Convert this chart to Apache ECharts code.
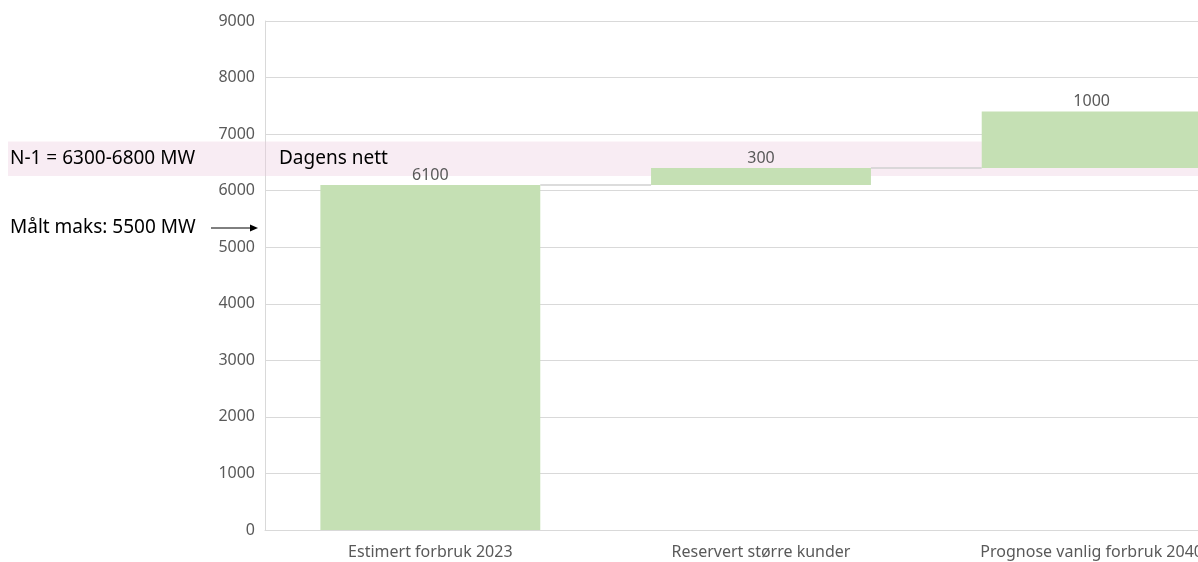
<!DOCTYPE html>
<html>
<head>
<meta charset="utf-8">
<script src="https://cdn.jsdelivr.net/npm/echarts@6/dist/echarts.min.js"></script>
<style>
  html, body { margin: 0; padding: 0; background: #fff; overflow: hidden; }
  /* wider than the window: the last category runs off the right edge like in the source */
  #chart { width: 1260px; height: 562px; }
</style>
</head>
<body>
<div id="chart"></div>
<script>
const categories = ['Estimert forbruk 2023', 'Reservert større kunder', 'Prognose vanlig forbruk 2040'];
const baseValues = [0, 6100, 6400];
const deltaValues = [6100, 300, 1000];
const connectorLevels = [[0, 6100], [1, 6400]];
const bandRange = [6260, 6870];
const yTicks = { min: 0, max: 9000, interval: 1000 };

const FONT = '"Noto Sans", sans-serif';
const chart = echarts.init(document.getElementById('chart'));

const option = {
    animation: false,
    textStyle: { fontFamily: FONT },
    grid: { left: 265, right: 3, top: 21, bottom: 32 },
    xAxis: {
        type: 'category',
        data: categories,
        axisLine: { lineStyle: { color: '#d9d9d9' } },
        axisTick: { show: false },
        axisLabel: { color: '#595959', fontSize: 16, margin: 14, fontFamily: FONT }
    },
    yAxis: {
        type: 'value',
        min: yTicks.min,
        max: yTicks.max,
        interval: yTicks.interval,
        axisLine: { show: true, lineStyle: { color: '#d9d9d9' } },
        splitLine: { lineStyle: { color: '#d9d9d9' } },
        axisLabel: {
            color: '#595959', fontSize: 16, margin: 10, fontFamily: FONT,
            formatter: v => String(v)
        }
    },
    series: [
        {
            name: 'base',
            type: 'bar',
            stack: 'w',
            barWidth: '66.5%',
            itemStyle: { color: 'transparent' },
            data: baseValues,
            z: 3
        },
        {
            name: 'delta',
            type: 'bar',
            stack: 'w',
            itemStyle: { color: '#c5e0b4' },
            label: {
                show: true,
                position: 'top',
                distance: 2,
                color: '#595959',
                fontSize: 16,
                fontFamily: FONT
            },
            data: deltaValues,
            z: 3
        },
        {
            // connector lines between the bars
            type: 'custom',
            z: 2,
            silent: true,
            data: connectorLevels,
            renderItem: (params, api) => {
                const idx = api.value(0);
                const level = api.value(1);
                const w = api.size([1, 0])[0] * 0.665;
                const p1 = api.coord([idx, level]);
                const p2 = api.coord([idx + 1, level]);
                return {
                    type: 'line',
                    shape: { x1: p1[0] + w / 2, y1: p1[1], x2: p2[0] - w / 2, y2: p2[1] },
                    style: { stroke: '#d0d0d0', lineWidth: 1.5 }
                };
            }
        }
    ]
};
chart.setOption(option);

// band and annotations, placed by the axis scale
const yTop = chart.convertToPixel({ yAxisIndex: 0 }, bandRange[1]);
const yBot = chart.convertToPixel({ yAxisIndex: 0 }, bandRange[0]);
const yMid = (yTop + yBot) / 2;
const arrowY = 228;

chart.setOption({
    graphic: [
        {
            type: 'rect',
            z: 1,
            silent: true,
            shape: { x: 8, y: yTop, width: 1250, height: yBot - yTop },
            style: { fill: 'rgba(236, 200, 220, 0.35)' }
        },
        {
            type: 'text',
            z: 10,
            x: 10,
            y: yMid,
            style: { text: 'N-1 = 6300-6800 MW', fill: '#000', font: '19px ' + FONT, verticalAlign: 'middle' }
        },
        {
            type: 'text',
            z: 10,
            x: 279,
            y: yMid,
            style: { text: 'Dagens nett', fill: '#000', font: '19px ' + FONT, verticalAlign: 'middle' }
        },
        {
            type: 'text',
            z: 10,
            x: 10,
            y: arrowY,
            style: { text: 'Målt maks: 5500 MW', fill: '#000', font: '19px ' + FONT, verticalAlign: 'middle' }
        },
        {
            type: 'line',
            z: 10,
            shape: { x1: 211, y1: arrowY, x2: 251, y2: arrowY },
            style: { stroke: '#000', lineWidth: 1 }
        },
        {
            type: 'polygon',
            z: 10,
            shape: { points: [[250, arrowY - 3.5], [258, arrowY], [250, arrowY + 3.5]] },
            style: { fill: '#000' }
        }
    ]
});
</script>
</body>
</html>
